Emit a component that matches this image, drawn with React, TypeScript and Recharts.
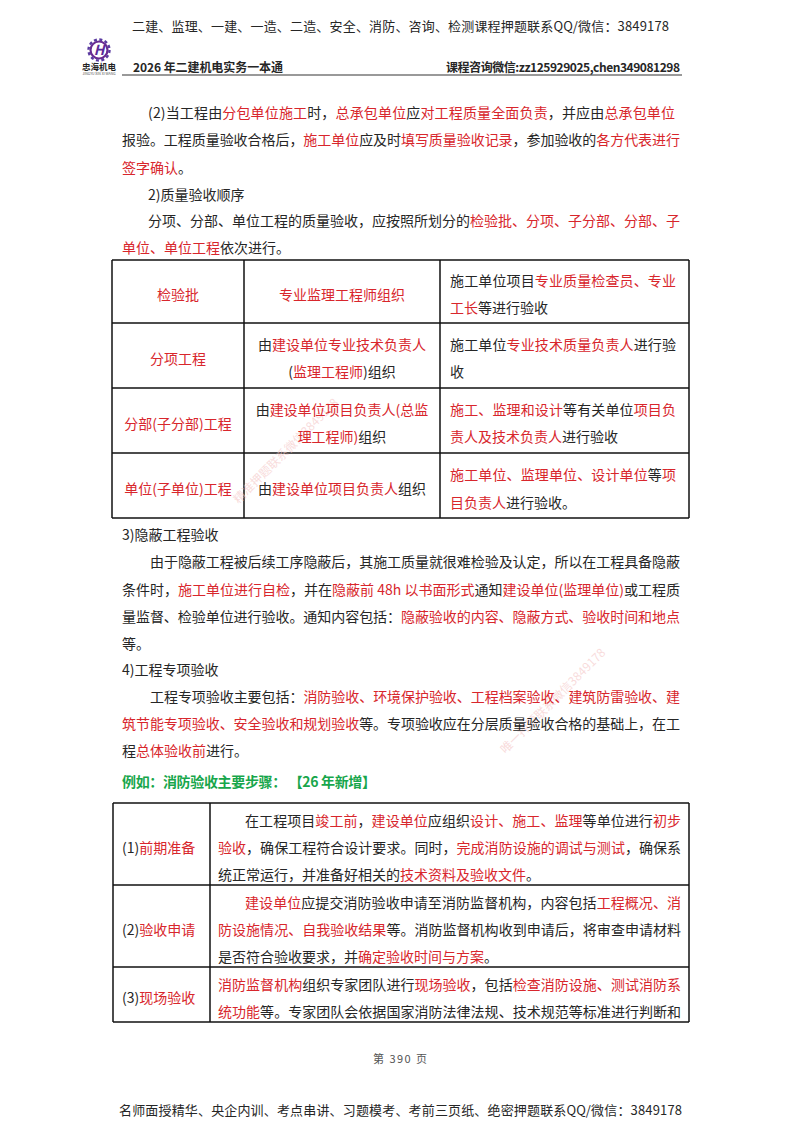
import { ScatterChart, Scatter, XAxis, YAxis, ReferenceLine } from 'recharts'

const CJK = '"Noto Sans CJK SC", sans-serif'
const RED = '#d8262c'
const INK = '#262626'

// {...} marks the red runs of a line
const headerText = [
  '二建、监理、一建、一造、二造、安全、消防、咨询、检测课程押题联系QQ/微信：3849178',
  '名师面授精华、央企内训、考点串讲、习题模考、考前三页纸、绝密押题联系QQ/微信：3849178',
]
const headerY = [25, 1109]
const headerX = [132, 119]
const headerEnd = [669, 682]

const subHeaderText = ['2026 年二建机电实务一本通', '课程咨询微信:zz125929025,chen349081298']
const subHeaderY = [66, 66]
const subHeaderX = [133, 446]
const subHeaderEnd = [283, 680]

const bodyText = [
  '(2)当工程由{分包单位施工}时，{总承包单位}应{对工程质量全面负责}，并应由{总承包单位}',
  '报验。工程质量验收合格后，{施工单位}应及时{填写质量验收记录}，参加验收的{各方代表进行}',
  '{签字确认}。',
  '2)质量验收顺序',
  '分项、分部、单位工程的质量验收，应按照所划分的{检验批、分项、子分部、分部、子}',
  '{单位、单位工程}依次进行。',
  '3)隐蔽工程验收',
  '由于隐蔽工程被后续工序隐蔽后，其施工质量就很难检验及认定，所以在工程具备隐蔽',
  '条件时，{施工单位进行自检}，并在{隐蔽前 48h 以书面形式}通知{建设单位(监理单位)}或工程质',
  '量监督、检验单位进行验收。通知内容包括：{隐蔽验收的内容、隐蔽方式、验收时间和地点}',
  '等。',
  '4)工程专项验收',
  '工程专项验收主要包括：{消防验收、环境保护验收、工程档案验收、建筑防雷验收、建}',
  '{筑节能专项验收、安全验收和规划验收}等。专项验收应在分层质量验收合格的基础上，在工',
  '程{总体验收前}进行。',
]
const bodyY = [112, 139, 167, 194, 220, 247, 534, 561, 589, 616, 643, 669, 696, 723, 750]
const bodyX = [148, 122, 122, 148, 148, 122, 122, 150, 122, 122, 122, 122, 150, 122, 122]
const bodyEnd = [675, 680, 0, 0, 680, 0, 0, 680, 680, 680, 0, 0, 680, 680, 0]

const leftCellText = [
  '施工单位项目{专业质量检查员、专业}',
  '{工长}等进行验收',
  '施工单位{专业技术质量负责人}进行验',
  '收',
  '{施工、监理和设计}等有关单位{项目负}',
  '{责人及技术负责人}进行验收',
  '{施工单位、监理单位、设计单位}等{项}',
  '{目负责人}进行验收。',
  '在工程项目{竣工前}，{建设单位}应组织{设计、施工、监理}等单位进行{初步}',
  '{验收}，确保工程符合设计要求。同时，{完成消防设施的调试与测试}，确保系',
  '统正常运行，并准备好相关的{技术资料及验收文件}。',
  '{建设单位}应提交消防验收申请至消防监督机构，内容包括{工程概况、消}',
  '{防设施情况、自我验收结果}等。消防监督机构收到申请后，将审查申请材料',
  '是否符合验收要求，并{确定验收时间与方案}。',
  '{消防监督机构}组织专家团队进行{现场验收}，包括{检查消防设施、测试消防系}',
  '{统功能}等。专家团队会依据国家消防法律法规、技术规范等标准进行判断和',
  '(1){前期准备}',
  '(2){验收申请}',
  '(3){现场验收}',
]
const leftCellY = [280, 307, 344, 371, 409, 436, 474, 502, 820, 847, 874, 902, 929, 956, 984, 1011, 847, 929, 997]
const leftCellX = [450, 450, 450, 450, 450, 450, 450, 450, 245, 218, 218, 245, 218, 218, 218, 218, 122, 122, 122]
const leftCellEnd = [676, 0, 676, 0, 676, 0, 676, 0, 681, 681, 0, 681, 681, 0, 681, 681, 0, 0, 0]

const centerCellText = [
  '{检验批}',
  '{专业监理工程师组织}',
  '{分项工程}',
  '由{建设单位专业技术负责人}',
  '({监理工程师})组织',
  '{分部(子分部)工程}',
  '由{建设单位项目负责人(总监}',
  '{理工程师)}组织',
  '{单位(子单位)工程}',
  '由{建设单位项目负责人}组织',
]
const centerCellY = [294, 294, 358, 344, 371, 423, 409, 436, 488, 488]
const centerCellX = [178, 342, 178, 342, 342, 178, 342, 342, 178, 342]

const greenText = ['例如：消防验收主要步骤： 【26 年新增】']
const greenY = [781]
const greenX = [122]
const greenEnd = [376]

const pageNumber = ['第 390 页']
const pageNumberY = [1058]
const pageNumberX = [373]
const pageNumberEnd = [427]

const watermarkText = ['精准押题联系微信3849178', '唯一押题联系微信3849178']
const watermarkX = [285, 552]
const watermarkY = [450, 700]

const logoX = [99]
const logoY = [50]

// table rules
const table1Columns = [112, 244, 440, 689]
const table1Rows = [260, 323, 388, 453, 518]
const table2Columns = [113, 210, 689]
const table2Rows = [803, 885, 967, 1022]

const lines = (text: string[], y: number[], x: number[], end?: number[]) =>
  text.map((t, i) => ({ text: t, y: y[i], x: x[i], end: end ? end[i] : 0 }))

const runs = (text: string) =>
  text
    .split(/(\{[^}]*\})/)
    .filter(Boolean)
    .map((part, i) =>
      part[0] === '{' ? (
        <tspan key={i} fill={RED}>
          {part.slice(1, -1)}
        </tspan>
      ) : (
        <tspan key={i}>{part}</tspan>
      ),
    )

type TextStyle = {
  size: number
  fill?: string
  weight?: number
  anchor?: 'start' | 'middle'
}

// draws one line of text at the point the scales computed
const textShape =
  ({ size, fill = INK, weight = 400, anchor = 'start' }: TextStyle) =>
  (props: any) => {
    const { cx, cy, payload } = props
    const p = payload
    const fit = p.end ? { textLength: p.end - p.x, lengthAdjust: 'spacing' as const } : {}
    return (
      <text
        x={cx}
        y={cy}
        fontFamily={CJK}
        fontSize={size}
        fontWeight={weight}
        fill={fill}
        textAnchor={anchor}
        dominantBaseline="central"
        {...fit}
      >
        {runs(p.text)}
      </text>
    )
  }

const watermarkShape = (props: any) => (
  <text
    x={props.cx}
    y={props.cy}
    fontFamily={CJK}
    fontSize={12}
    fill="#f4c4c4"
    fillOpacity={0.6}
    textAnchor="middle"
    dominantBaseline="central"
    transform={`rotate(-45 ${props.cx} ${props.cy})`}
  >
    {props.payload.text}
  </text>
)

const logoShape = (props: any) => {
  const { cx, cy } = props
  return (
    <g>
      <circle cx={cx} cy={cy} r={8.5} fill="none" stroke="#6a2c91" strokeWidth={2.2} />
      <circle cx={cx} cy={cy} r={10.5} fill="none" stroke="#5a3aa0" strokeWidth={2.4} strokeDasharray="3 2.5" />
      <text x={cx} y={cy + 5} fontSize={14} fontWeight={700} fontStyle="italic" fill="#5b2a9a" textAnchor="middle" fontFamily={CJK}>
        H
      </text>
      <text x={cx} y={cy + 20} fontSize={8.5} fontWeight={700} fill="#222" textAnchor="middle" fontFamily={CJK}>
        忠海机电
      </text>
      <text x={cx} y={cy + 25} fontSize={3.5} fill="#555" textAnchor="middle" fontFamily={CJK}>
        JINGYU XIN XI WANG
      </text>
    </g>
  )
}

const gridLines = (columns: number[], rows: number[]) => [
  ...columns.map((x) => (
    <ReferenceLine
      key={`v${x}-${rows[0]}`}
      segment={[{ x, y: rows[0] }, { x, y: rows[rows.length - 1] }]}
      stroke="#111"
      strokeWidth={1.5}
    />
  )),
  ...rows.map((y) => (
    <ReferenceLine
      key={`h${y}`}
      segment={[{ x: columns[0], y }, { x: columns[columns.length - 1], y }]}
      stroke="#111"
      strokeWidth={1.5}
    />
  )),
]

export default function App() {
  return (
    <div style={{ position: 'absolute', left: 0, top: 0, width: 800, height: 1132, background: '#fff' }}>
      <ScatterChart width={800} height={1132} margin={{ top: 0, right: 0, bottom: 0, left: 0 }}>
        <XAxis type="number" dataKey="x" domain={[0, 800]} hide />
        <YAxis type="number" dataKey="y" domain={[0, 1132]} reversed hide />
        <ReferenceLine segment={[{ x: 122, y: 75 }, { x: 682, y: 75 }]} stroke="#777" strokeWidth={1.5} />
        {gridLines(table1Columns, table1Rows)}
        {gridLines(table2Columns, table2Rows)}
        <Scatter
          data={lines(watermarkText, watermarkY, watermarkX)}
          shape={watermarkShape}
          isAnimationActive={false}
        />
        <Scatter data={lines(headerText, headerY, headerX, headerEnd)} shape={textShape({ size: 13 })} isAnimationActive={false} />
        <Scatter
          data={lines(subHeaderText, subHeaderY, subHeaderX, subHeaderEnd)}
          shape={textShape({ size: 12, weight: 700 })}
          isAnimationActive={false}
        />
        <Scatter data={lines(bodyText, bodyY, bodyX, bodyEnd)} shape={textShape({ size: 14 })} isAnimationActive={false} />
        <Scatter data={lines(leftCellText, leftCellY, leftCellX, leftCellEnd)} shape={textShape({ size: 14 })} isAnimationActive={false} />
        <Scatter
          data={lines(centerCellText, centerCellY, centerCellX)}
          shape={textShape({ size: 14, anchor: 'middle' })}
          isAnimationActive={false}
        />
        <Scatter
          data={lines(greenText, greenY, greenX, greenEnd)}
          shape={textShape({ size: 14, weight: 700, fill: '#17a64b' })}
          isAnimationActive={false}
        />
        <Scatter
          data={lines(pageNumber, pageNumberY, pageNumberX, pageNumberEnd)}
          shape={textShape({ size: 11, fill: '#555' })}
          isAnimationActive={false}
        />
        <Scatter data={[{ x: logoX[0], y: logoY[0] }]} shape={logoShape} isAnimationActive={false} />
      </ScatterChart>
    </div>
  )
}
